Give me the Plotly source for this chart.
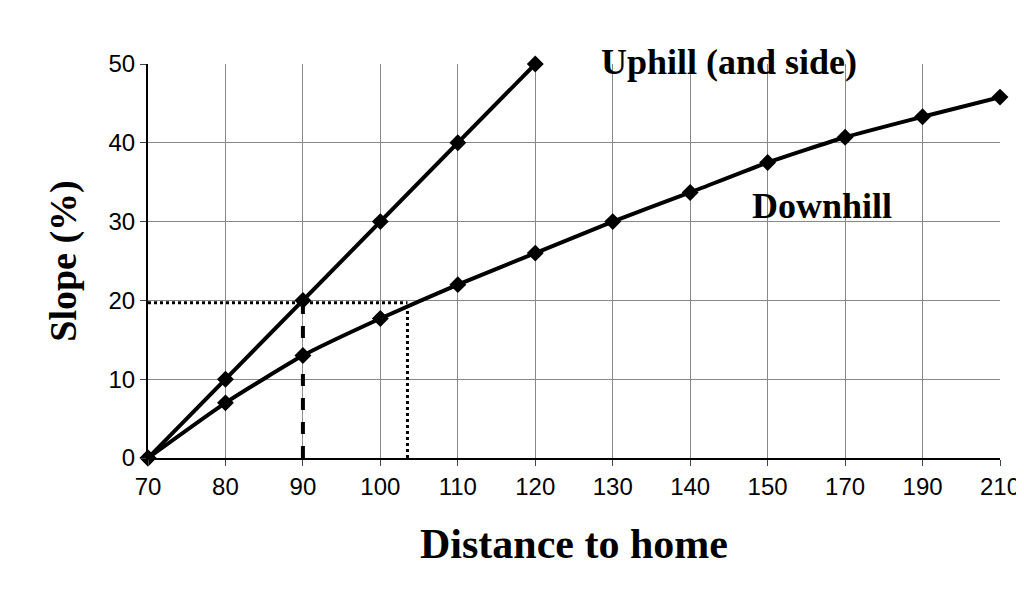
import plotly.graph_objects as go

x_labels = ["70","80","90","100","110","120","130","140","150","170","190","210"]
up_idx = [0,1,2,3,4,5]
up_vals = [0,10,20,30,40,50]
down_idx = list(range(12))
down_vals = [0,7,13,17.7,22,26,30,33.7,37.5,40.7,43.3,45.8]
# reference lines (index positions, slope)
h_ref_x = [0, 3.35]; h_ref_y = [19.7, 19.7]
v1_x = [2, 2]; v1_y = [0, 19.7]
v2_x = [3.35, 3.35]; v2_y = [0, 19.7]

fig = go.Figure()
mk = dict(symbol="diamond", size=13, color="black")
fig.add_trace(go.Scatter(x=up_idx, y=up_vals, mode="lines+markers", cliponaxis=False, line=dict(color="black", width=4), marker=mk))
fig.add_trace(go.Scatter(x=down_idx, y=down_vals, mode="lines+markers", cliponaxis=False, line=dict(color="black", width=4, shape="spline", smoothing=0.5), marker=mk))
fig.add_trace(go.Scatter(x=h_ref_x, y=h_ref_y, mode="lines", line=dict(color="black", width=3, dash="dot")))
fig.add_trace(go.Scatter(x=v1_x, y=v1_y, mode="lines", line=dict(color="black", width=4, dash="dash")))
fig.add_trace(go.Scatter(x=v2_x, y=v2_y, mode="lines", line=dict(color="black", width=3, dash="dot")))

fig.add_annotation(x=7.5, xref="x", y=1.06, yref="paper", text="<b>Uphill (and side)</b>", showarrow=False,
                   font=dict(family="Liberation Serif", size=36, color="black"))
fig.add_annotation(x=8.7, y=32, text="<b>Downhill</b>", showarrow=False,
                   font=dict(family="Liberation Serif", size=36, color="black"))

fig.update_layout(
    width=1024, height=594, showlegend=False,
    paper_bgcolor="white", plot_bgcolor="white",
    margin=dict(l=140, r=28, t=56, b=144),
    xaxis=dict(range=[0, 11], tickmode="array", tickvals=list(range(12)), ticktext=x_labels,
               showgrid=True, gridcolor="#888", gridwidth=1, showline=True, linecolor="black", linewidth=2,
               zeroline=False, ticks="outside", ticklen=6,
               tickfont=dict(family="Liberation Sans", size=24, color="black"),
               title=dict(text="<b>Distance to home</b>", font=dict(family="Liberation Serif", size=42, color="black"), standoff=30)),
    yaxis=dict(range=[0, 50], tickvals=[0,10,20,30,40,50], showgrid=True, gridcolor="#888", gridwidth=1,
               showline=True, linecolor="black", linewidth=2, zeroline=False, ticks="outside", ticklen=6,
               tickfont=dict(family="Liberation Sans", size=24, color="black"),
               title=dict(text="<b>Slope (%)</b>", font=dict(family="Liberation Serif", size=38, color="black"), standoff=20)),
)
fig.write_html("out.html")
